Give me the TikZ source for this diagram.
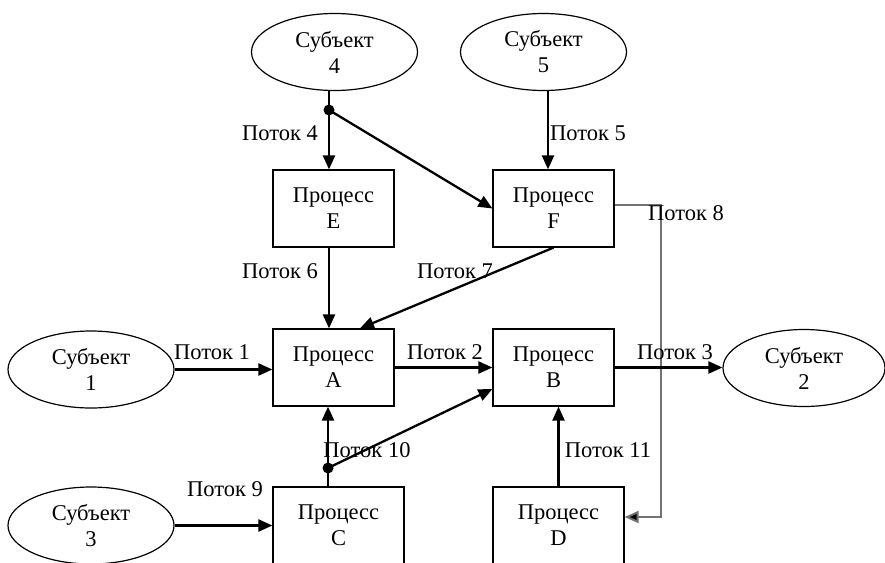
\documentclass[tikz,border=0pt]{standalone}
\usepackage{fontspec}
\setmainfont{Liberation Serif}
\usetikzlibrary{shapes.geometric,arrows.meta,calc}
\begin{document}
\begin{tikzpicture}[x=1pt,y=1pt,
  every node/.style={font=\fontsize{22.5}{26}\selectfont},
  subj/.style={ellipse,draw,line width=1.2pt,inner sep=0pt,minimum width=166pt,minimum height=77pt,align=center},
  proc/.style={rectangle,draw,line width=1.2pt,inner sep=0pt,minimum width=121pt,minimum height=77pt,align=center},
  procw/.style={proc,minimum width=131pt},
  flow/.style={line width=2.3pt,-{Triangle[length=14pt,width=12pt]}},
  plain/.style={line width=2.3pt},
  thin8/.style={line width=2pt,draw=black!55,-{Triangle[length=14pt,width=12pt,fill=black]}},
  lbl/.style={inner sep=0pt},
  dot/.style={circle,fill=black,inner sep=0pt,minimum size=11pt}]
\useasboundingbox (0,0) rectangle (885,-562);
\clip (0,0) rectangle (885,-562);
\fill[white] (0,0) rectangle (885,-562);

% subjects
\node[subj] (s4) at (334.5,-52) {Субъект\\4};
\node[subj] (s5) at (543.5,-52) {Субъект\\5};
\node[subj] (s1) at (91,-369.5) {Субъект\\1};
\node[subj,minimum width=162pt] (s2) at (804,-368) {Субъект\\2};
\node[subj] (s3) at (91,-525.5) {Субъект\\3};

% processes
\node[proc] (E) at (333.5,-208.5) {Процесс\\E};
\node[proc] (F) at (553.5,-208.5) {Процесс\\F};
\node[proc] (A) at (333.5,-367.5) {Процесс\\A};
\node[proc] (B) at (553.5,-367.5) {Процесс\\B};
\node[procw] (C) at (338.5,-525.5) {Процесс\\C};
\node[procw] (D) at (558.5,-525.5) {Процесс\\D};

% junction dots
\node[dot] (d4) at (329,-110) {};
\node[dot] (d10) at (328,-468) {};

% connectors
\draw[plain] (d4 |- s4.south) -- (d4.center);
\draw[flow] (d4.center) -- (d4 |- E.north);
\draw[flow] (d4.center) -- (F.west);
\draw[flow] ([xshift=-5.5pt]F.north |- s5.south) -- ([xshift=-5.5pt]F.north);
\draw[flow] ([xshift=-4.5pt]E.south) -- ([xshift=-4.5pt]A.north);
\draw[flow] (F.south) -- ([xshift=26.5pt]A.north);
\draw[thin8] ([yshift=3.5pt]F.east) -- ++(46,0) |- ([yshift=8.5pt]D.east);
\draw[flow] (s1.east) -- (s1.east -| A.west);
\draw[flow] (A.east) -- (B.west);
\draw[flow] (B.east) -- (B.east -| s2.west);
\draw[flow] (s3.east) -- (s3.east -| C.west);
\draw[plain] (d10 |- C.north) -- (d10.center);
\draw[flow] (d10.center) -- (d10 |- A.south);
\draw[flow] (d10.center) -- ([yshift=-21.5pt]B.west);
\draw[flow] (D.north) -- (D.north |- B.south);

% labels
\node[lbl] (l4) at (280,-133) {Поток 4};
\node[lbl] (l5) at (588,-133) {Поток 5};
\node[lbl] (l8) at (686,-213) {Поток 8};
\node[lbl] (l6) at (280,-271) {Поток 6};
\node[lbl] (l7) at (455,-271) {Поток 7};
\node[lbl] (l1) at (212,-352) {Поток 1};
\node[lbl] (l2) at (445,-352) {Поток 2};
\node[lbl] (l3) at (675,-352) {Поток 3};
\node[lbl] (l10) at (367,-450) {Поток 10};
\node[lbl] (l11) at (608,-450) {Поток 11};
\node[lbl] (l9) at (225,-489) {Поток 9};
\end{tikzpicture}
\end{document}
